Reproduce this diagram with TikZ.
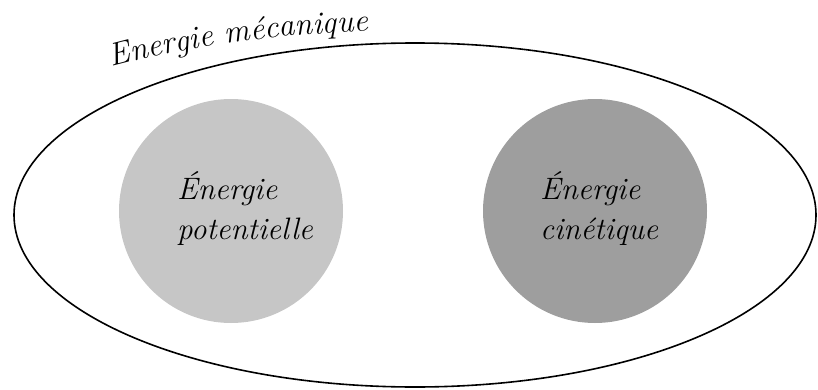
\documentclass[tikz,border=0pt]{standalone}
\usepackage{fontspec}
\usetikzlibrary{shapes.geometric,decorations.text}
\definecolor{potgray}{RGB}{198,198,198}
\definecolor{cingray}{RGB}{158,158,158}
\tikzset{
  energyset/.style={ellipse, draw=black, line width=1.6pt, minimum width=802pt, minimum height=344pt, inner sep=0pt},
  energyball/.style={circle, minimum size=224pt, inner sep=0pt, draw=none},
  balllabel/.style={align=left, font=\itshape\fontsize{31}{40}\selectfont, inner sep=0pt}
}
\begin{document}
\begin{tikzpicture}[x=1pt,y=1pt]
  \useasboundingbox (0,0) rectangle (818,389);
  % total mechanical energy
  \node[energyset] (meca) at (415,174) {};
  % the two components
  \node[energyball, fill=potgray] (pot) at (231,178) {};
  \node[energyball, fill=cingray] (cin) at (595,178) {};
  \node[balllabel, anchor=west] (potlabel) at (177,180) {Énergie\\potentielle};
  \node[balllabel, anchor=west] (cinlabel) at (540,180) {Énergie\\cinétique};
  % title set along the upper rim
  \path[decorate, decoration={text along path, text align=left,
      text={|\itshape\fontsize{32}{38}\selectfont|Energie mécanique}}]
    (112,322) .. controls (190,343) and (290,358) .. (400,358);
\end{tikzpicture}
\end{document}
